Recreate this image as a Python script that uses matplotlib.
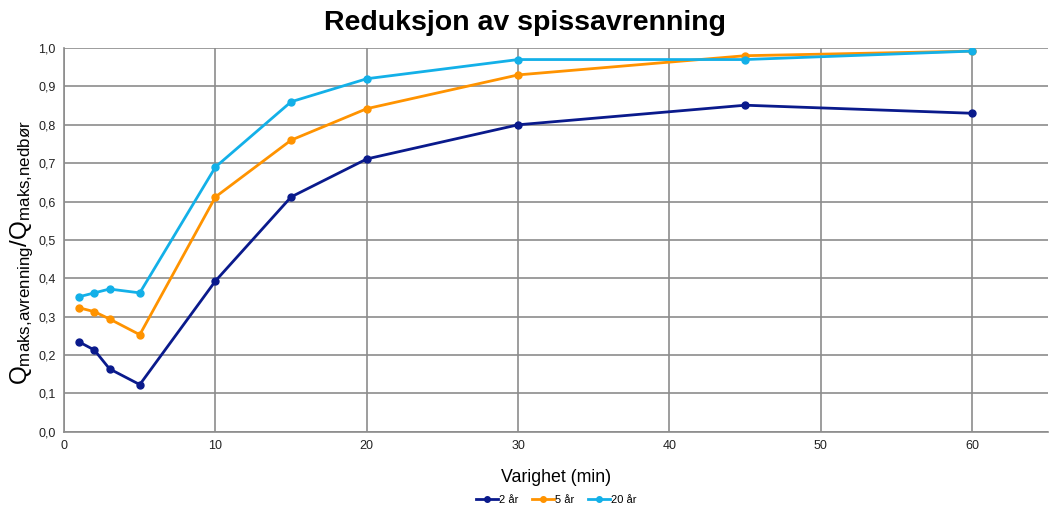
import numpy as np
import matplotlib
matplotlib.use('Agg')
import matplotlib.pyplot as plt
from matplotlib.ticker import FuncFormatter

plt.rcParams['font.family'] = ['Liberation Sans', 'DejaVu Sans']
plt.rcParams['mathtext.fontset'] = 'custom'
plt.rcParams['mathtext.rm'] = 'Liberation Sans'
plt.rcParams['mathtext.it'] = 'Liberation Sans'

varighet = [1, 2, 3, 5, 10, 15, 20, 30, 45, 60]
aar2 = [0.234, 0.213, 0.164, 0.123, 0.393, 0.612, 0.711, 0.800, 0.851, 0.830]
aar5 = [0.323, 0.313, 0.294, 0.253, 0.612, 0.760, 0.842, 0.930, 0.980, 0.992]
aar20 = [0.352, 0.362, 0.372, 0.362, 0.690, 0.860, 0.920, 0.970, 0.970, 0.992]

series = [('2 år', aar2, '#0a1a8c'), ('5 år', aar5, '#ff9300'), ('20 år', aar20, '#13b0e8')]


def plot_reduksjon():
    fig = plt.figure(figsize=(10.51, 5.11), dpi=100)
    ax = fig.add_axes([0.061, 0.155, 0.936, 0.751])
    for name, vals, col in series:
        ax.plot(varighet, vals, color=col, lw=2, marker='o', ms=5, label=name, zorder=3)
    ax.set_xlim(0, 65)
    ax.set_ylim(0, 1.0)
    ax.set_xticks(range(0, 61, 10))
    ax.set_yticks(np.arange(0, 1.01, 0.1))
    ax.yaxis.set_major_formatter(FuncFormatter(lambda v, p: ('%.1f' % v).replace('.', ',')))
    ax.grid(True, color='#8c8c8c', lw=1.2)
    ax.tick_params(length=0, labelsize=9, colors='#222222', pad=6)
    for s in ['top', 'right']:
        ax.spines[s].set_visible(False)
    for s in ['left', 'bottom']:
        ax.spines[s].set_color('#8c8c8c')
        ax.spines[s].set_linewidth(1.2)

    fig.suptitle('Reduksjon av spissavrenning', fontsize=20.5, fontweight='bold', y=0.98)
    ax.set_ylabel(r'$\mathrm{Q_{maks{,}avrenning}/Q_{maks{,}nedbør}}$', fontsize=17.4, labelpad=2)
    ax.yaxis.label.set_y(0.466)
    ax.set_xlabel('Varighet (min)', fontsize=12.8, labelpad=12)
    ax.legend(loc='center', bbox_to_anchor=(0.5, -0.177), ncol=3, frameon=False,
              fontsize=8, handlelength=2.0, handletextpad=0.1, columnspacing=1.2,
              markerscale=0.8)
    fig.savefig('out.png', dpi=100)


if __name__ == '__main__':
    plot_reduksjon()
